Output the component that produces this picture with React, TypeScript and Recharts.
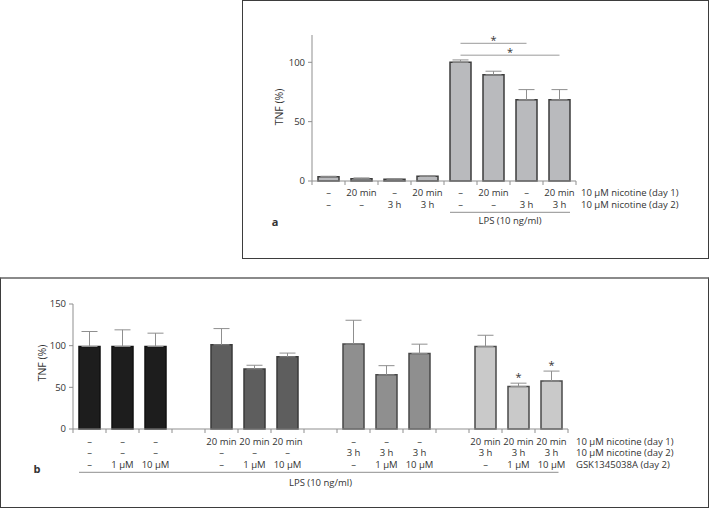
import React from "react";
import {Bar, BarChart, Cell, ErrorBar, ReferenceDot, ReferenceLine, XAxis, YAxis} from "recharts";

const FONT = '"Open Sans", "Noto Sans", sans-serif';
const TXT = "#333333";
const AXIS = "#8f8f8f";

// panel a
const aCats = ["a1", "a2", "a3", "a4", "a5", "a6", "a7", "a8"];
const aDay1 = ["–", "20 min", "–", "20 min", "–", "20 min", "–", "20 min"];
const aDay2 = ["–", "–", "3 h", "3 h", "–", "–", "3 h", "3 h"];
const aTnf = [3.5, 2, 1.5, 4, 100, 89.5, 68.5, 68.5];
const aSem = [0.5, 0.6, 0.5, 0.4, 2, 3, 8.5, 8.5];
const aRowNames = ["10 μM nicotine (day 1)", "10 μM nicotine (day 2)"];
const aTicks = [0, 50, 100];

// panel b
const bCats = ["b1", "b2", "b3", "g1", "b4", "b5", "b6", "g2", "b7", "b8", "b9", "g3", "b10", "b11", "b12"];
const bDay1 = ["–", "–", "–", "", "20 min", "20 min", "20 min", "", "–", "–", "–", "", "20 min", "20 min", "20 min"];
const bDay2 = ["–", "–", "–", "", "–", "–", "–", "", "3 h", "3 h", "3 h", "", "3 h", "3 h", "3 h"];
const bGsk = ["–", "1 μM", "10 μM", "", "–", "1 μM", "10 μM", "", "–", "1 μM", "10 μM", "", "–", "1 μM", "10 μM"];
const bTnf = [99, 99, 99, null, 101, 72, 86.6, null, 102, 65, 90.5, null, 99, 51, 57.5];
const bSem = [18, 20, 16, null, 19.5, 4.5, 4.5, null, 28.5, 11, 11.3, null, 13.5, 4, 12];
const bSig = [false, false, false, false, false, false, false, false, false, false, false, false, false, true, true];
const bRowNames = ["10 μM nicotine (day 1)", "10 μM nicotine (day 2)", "GSK1345038A (day 2)"];
const bTicks = [0, 50, 100, 150];

const bFill = ["#1d1d1d", "#5e5e5e", "#8f8f8f", "#c9c9c9"];
const bStroke = ["#111111", "#3a3a3a", "#484848", "#4a4a4a"];

const aData = aCats.map((c, i) => ({cat: c, tnf: aTnf[i], sem: aSem[i]}));
const bData = bCats.map((c, i) => ({cat: c, tnf: bTnf[i], sem: bSem[i]}));

const errKey = (d: any) => (d.sem == null ? null : [0, d.sem]);

interface TickOpts {
    rows: string[][];
    rowY: number[];
    rowNames: string[];
    nameDx: number;
    lpsFrom: number;
    lpsTo: number;
    lpsEndDx: number;
    lpsY: number;
    lpsLabelIdx: number;
    lpsLabelDx: number;
    lpsLabelY: number;
}

function makeTick(o: TickOpts) {
    return function GroupTick(props: any) {
        const {x, y, index, width} = props;
        const n = o.rows[0].length;
        const bw = typeof width === "number" && width > 0 ? width / n : 33;
        const half = bw / 2;
        const last = index === n - 1;
        let lpsLine = null;
        if (index >= o.lpsFrom && index <= o.lpsTo) {
            const x1 = index === o.lpsFrom ? x - 10.5 : x - half;
            const x2 = index === o.lpsTo ? x + o.lpsEndDx : x + half;
            lpsLine = <line x1={x1} x2={x2} y1={y + o.lpsY} y2={y + o.lpsY} stroke={AXIS} strokeWidth={1}/>;
        }
        return (
            <g fontFamily={FONT} fontSize={9.5} fill={TXT}>
                <line x1={x - half} x2={x - half} y1={y} y2={y + 4} stroke={AXIS}/>
                {last && <line x1={x + half} x2={x + half} y1={y} y2={y + 4} stroke={AXIS}/>}
                {o.rows.map((r, k) => (
                    <text key={k} x={x} y={y + o.rowY[k]} textAnchor="middle" dominantBaseline="central">{r[index]}</text>
                ))}
                {last && o.rowNames.map((t, k) => (
                    <text key={"n" + k} x={x + half + o.nameDx} y={y + o.rowY[k]} dominantBaseline="central">{t}</text>
                ))}
                {lpsLine}
                {index === o.lpsLabelIdx && (
                    <text x={x + o.lpsLabelDx} y={y + o.lpsLabelY} textAnchor="middle" dominantBaseline="central">LPS (10 ng/ml)</text>
                )}
            </g>
        );
    };
}

const TickA = makeTick({
    rows: [aDay1, aDay2], rowY: [11.7, 23.3], rowNames: aRowNames, nameDx: 5,
    lpsFrom: 4, lpsTo: 7, lpsEndDx: 10.5, lpsY: 31.3, lpsLabelIdx: 5, lpsLabelDx: 16.5, lpsLabelY: 39.7,
});
const TickB = makeTick({
    rows: [bDay1, bDay2, bGsk], rowY: [12, 23.7, 35.7], rowNames: bRowNames, nameDx: 8,
    lpsFrom: 0, lpsTo: 14, lpsEndDx: 7, lpsY: 43.3, lpsLabelIdx: 7, lpsLabelDx: 0, lpsLabelY: 53.7,
});

function Star(props: any) {
    const vb = props.viewBox || {};
    const cx = (vb.x || 0) + (vb.width || 0) / 2;
    const cy = (vb.y || 0) + (vb.height || 0) / 2;
    return <text x={cx} y={cy - (props.lift || 5)} textAnchor="middle" dominantBaseline="central" fontFamily={FONT} fontSize={11} fill={TXT}>*</text>;
}

const yTick = {fontSize: 9.5, fill: TXT, fontFamily: FONT};

export default function App() {
    return (
        <div style={{position: "absolute", left: 0, top: 0, width: 709, height: 508, background: "#fff", fontFamily: FONT}}>
            <div style={{position: "absolute", left: 242, top: 0, width: 467, height: 259, border: "1px solid #3d3d3d", boxSizing: "border-box"}}/>
            <div style={{position: "absolute", left: 0, top: 277, width: 709, height: 231, border: "1px solid #3d3d3d", borderTop: "2px solid #8a8a8a", boxSizing: "border-box"}}/>

            <div style={{position: "absolute", left: 0, top: 0}}>
                <BarChart width={709} height={260} data={aData} margin={{top: 35, right: 133, bottom: 0, left: 262}} barSize={21}>
                    <XAxis dataKey="cat" height={79} interval={0} tickLine={false} tickSize={0} tickMargin={0}
                           axisLine={{stroke: AXIS}} tick={(p: any) => <TickA {...p}/>}/>
                    <YAxis width={50} domain={[0, 123]} ticks={aTicks} tickSize={4} tickMargin={3}
                           axisLine={{stroke: AXIS}} tickLine={{stroke: AXIS}} tick={yTick}/>
                    <Bar dataKey="tnf" fill="#b9babd" stroke="#3c3c3c" strokeWidth={1.5} isAnimationActive={false}>
                        <ErrorBar dataKey={errKey} width={8} stroke={AXIS} strokeWidth={1} isAnimationActive={false}/>
                    </Bar>
                    <ReferenceLine segment={[{x: aCats[4], y: 116}, {x: aCats[6], y: 116}]} stroke="#9a9a9a" ifOverflow="visible"
                                   label={<Star lift={4}/>}/>
                    <ReferenceLine segment={[{x: aCats[4], y: 106}, {x: aCats[7], y: 106}]} stroke="#9a9a9a" ifOverflow="visible"
                                   label={<Star lift={4}/>}/>
                </BarChart>
            </div>

            <div style={{position: "absolute", left: 0, top: 280}}>
                <BarChart width={709} height={228} data={bData} margin={{top: 24, right: 141, bottom: 0, left: 23}} barSize={21}>
                    <XAxis dataKey="cat" height={79} interval={0} tickLine={false} tickSize={0} tickMargin={0}
                           axisLine={{stroke: AXIS}} tick={(p: any) => <TickB {...p}/>}/>
                    <YAxis width={50} domain={[0, 150]} ticks={bTicks} tickSize={4} tickMargin={3}
                           axisLine={{stroke: AXIS}} tickLine={{stroke: AXIS}} tick={yTick}/>
                    <Bar dataKey="tnf" strokeWidth={1.5} isAnimationActive={false}>
                        {bData.map((d, i) => (
                            <Cell key={d.cat} fill={bFill[Math.floor(i / 4)]} stroke={bStroke[Math.floor(i / 4)]}/>
                        ))}
                        <ErrorBar dataKey={errKey} width={8} stroke={AXIS} strokeWidth={1} isAnimationActive={false}/>
                    </Bar>
                    {bData.map((d, i) => bSig[i] && d.tnf != null && (
                        <ReferenceDot key={"s" + i} x={d.cat} y={d.tnf + (d.sem || 0)} r={1} fill="none" stroke="none"
                                      ifOverflow="visible" label={<Star lift={7}/>}/>
                    ))}
                </BarChart>
            </div>

            <svg width={709} height={508} style={{position: "absolute", left: 0, top: 0, pointerEvents: "none"}}>
                <g fontFamily={FONT} fill={TXT}>
                    <text x={279} y={107} fontSize={10.5} textAnchor="middle" dominantBaseline="central" transform="rotate(-90 279 107)">TNF (%)</text>
                    <text x={275} y={221} fontSize={11} fontWeight="bold" textAnchor="middle" dominantBaseline="central">a</text>
                    <text x={41.5} y={363} fontSize={10.5} textAnchor="middle" dominantBaseline="central" transform="rotate(-90 41.5 363)">TNF (%)</text>
                    <text x={37} y={468} fontSize={11} fontWeight="bold" textAnchor="middle" dominantBaseline="central">b</text>
                </g>
            </svg>
        </div>
    );
}
